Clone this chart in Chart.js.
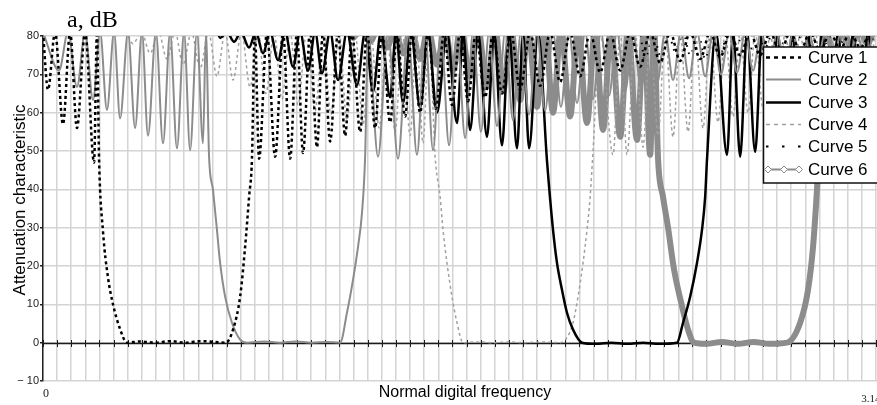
<!DOCTYPE html>
<html>
<head>
<meta charset="utf-8">
<script src="https://cdn.jsdelivr.net/npm/chart.js@4/dist/chart.umd.min.js"></script>
<style>
html, body { margin: 0; padding: 0; background: #fff; }
#wrap { width: 877px; height: 405px; }
</style>
</head>
<body>
<div id="wrap"><canvas id="chart" width="877" height="405"></canvas></div>
<script>
// frequency (rad) / attenuation (dB); 81..90 = pole just above the top edge
const c1Freq = [
  0, 0.019, 0.046, 0.076, 0.103, 0.129, 0.160, 0.194, 0.205, 0.213,
  0.228, 0.247, 0.266, 0.293, 0.319, 0.369, 0.426, 0.483, 0.540, 0.597,
  0.654, 0.695, 0.722, 0.749, 0.768, 0.783, 0.794, 0.805,
  0.821, 0.851, 0.882, 0.912, 0.939, 0.965, 0.988, 1.015, 1.041, 1.064,
  1.091, 1.121, 1.148, 1.174, 1.205, 1.231, 1.262, 1.288, 1.319, 1.345,
  1.376, 1.402, 1.433, 1.463, 1.493, 1.524, 1.554, 1.585, 1.615, 1.645,
  1.680, 1.710, 1.744, 1.778, 1.813, 1.851, 1.889, 1.927, 1.965, 2.003,
  2.041, 2.079, 2.117, 2.155, 2.193, 2.231, 2.269, 2.307, 2.345, 2.383,
  2.421, 2.459, 2.497, 2.535, 2.573, 2.611, 2.649, 2.687, 2.725, 2.763,
  2.801, 2.839, 2.877, 2.915, 2.953, 2.991, 3.029, 3.067, 3.105, 3.143
];
const c1Att = [
  81, 66, 81, 57, 81, 56, 81, 47, 81, 48,
  29, 17, 10, 3.5, 0, 0.3, 0, 0.4, 0, 0.4,
  0.2, 0, 3.4, 12, 25, 38, 48, 81,
  48, 81, 48.5, 81, 48, 81, 49.5, 81, 51, 81,
  52.5, 81, 54, 81, 55, 81, 56, 81, 57.5, 81,
  59, 81, 60, 81, 61, 81, 62, 81, 63, 81,
  64, 81, 65, 81, 66, 81, 67, 81, 68, 81,
  69.5, 81, 70.5, 81, 71, 81, 72, 81, 73, 81,
  73.5, 81, 74, 81, 74.5, 81, 75, 81, 75, 81,
  75.5, 81, 76, 81, 76, 81, 76.5, 81, 77, 81
];

const c2Freq = [
  0, 0.061, 0.095, 0.129, 0.160, 0.190, 0.217, 0.243, 0.270, 0.293,
  0.323, 0.350, 0.376, 0.399, 0.429, 0.456, 0.483, 0.509, 0.536, 0.559,
  0.585, 0.608, 0.619, 0.631, 0.646, 0.661, 0.673, 0.692, 0.718, 0.749,
  0.775, 0.840, 0.900, 0.960, 1.020, 1.080, 1.129, 1.155, 1.178, 1.197,
  1.212, 1.224, 1.235,
  1.273, 1.311, 1.349, 1.387, 1.421, 1.452, 1.482, 1.512, 1.543, 1.573,
  1.604, 1.634, 1.664, 1.695, 1.725, 1.756, 1.786, 1.816, 1.847, 1.877,
  1.908, 1.938, 1.968, 1.999, 2.029, 2.060, 2.090, 2.120, 2.151, 2.181,
  2.212, 2.242, 2.272, 2.303, 2.333, 2.364, 2.394, 2.424, 2.455, 2.485,
  2.516, 2.546, 2.576, 2.607, 2.637, 2.668, 2.698, 2.728, 2.759, 2.789,
  2.820, 2.850, 2.880, 2.911, 2.941, 2.972, 3.002, 3.032, 3.063, 3.093,
  3.124, 3.154
];
const c2Att = [
  81, 71, 81, 66.7, 81, 63.3, 81, 60.7, 81, 58.5,
  81, 56, 81, 54, 81, 52, 81, 50.7, 81, 50.2,
  81, 52, 81, 48.5, 39.8, 29.4, 20.8, 12, 5.2, 0.8,
  0, 0.3, 0, 0.3, 0, 0.2, 0, 7.8, 16.4, 25,
  33.8, 48.5, 81,
  48.5, 81, 48, 81, 49, 81, 50.2, 81, 51.5, 81,
  53.4, 81, 55, 81, 56.5, 81, 58, 81, 59.5, 81,
  60.5, 81, 61.5, 81, 62.5, 81, 63.5, 81, 64.5, 81,
  65.5, 81, 66.5, 81, 67.5, 81, 68.5, 81, 69, 81,
  69.5, 81, 70, 81, 70.5, 81, 71, 81, 71.5, 81,
  72, 81, 72, 81, 72.5, 81, 72.5, 81, 73, 81,
  73, 81
];

const c3Freq = [
  0, 0.640, 0.673, 0.699, 0.726, 0.752, 0.783, 0.809, 0.836, 0.863,
  0.893, 0.920, 0.950, 0.977, 1.007, 1.034, 1.060, 1.091, 1.121, 1.155,
  1.193, 1.224, 1.254, 1.284, 1.319, 1.341, 1.368, 1.398, 1.433, 1.463,
  1.497, 1.535, 1.573, 1.596, 1.623, 1.653, 1.687, 1.714, 1.744, 1.771,
  1.801, 1.824, 1.847, 1.881, 1.915, 1.938, 1.953, 1.972, 1.991,
  2.014, 2.048, 2.100, 2.160, 2.220, 2.280, 2.340, 2.409, 2.432, 2.459,
  2.485, 2.504, 2.516, 2.523, 2.557, 2.599, 2.622, 2.649, 2.675, 2.706,
  2.732, 2.763, 2.792, 2.820, 2.846, 2.877, 2.907, 2.934, 2.960, 2.991,
  3.021, 3.048, 3.078, 3.105, 3.135, 3.162
];
const c3Att = [
  90, 90, 79.5, 81, 78.5, 81, 77, 81, 75.5, 81,
  73.7, 81, 72, 81, 71, 81, 70.3, 81, 68.5, 81,
  67.2, 81, 65.5, 81, 64, 81, 62.5, 81, 61.2, 81,
  60, 81, 57.3, 81, 55.5, 81, 53.7, 81, 51.5, 81,
  50.7, 81, 50.7, 81, 47.5, 29.4, 20.8, 13.8, 7.8,
  3.4, 0, -0.3, 0, -0.3, 0, -0.3, 0, 5.2, 12,
  20.8, 29.4, 38, 47.7, 81, 49, 81, 48.5, 81, 49.8,
  81, 50, 81, 50.5, 81, 51, 81, 51.5, 81, 52,
  81, 52.5, 81, 53, 81, 53
];

const c4Freq = [
  0, 0.250, 0.281, 0.312, 0.342, 0.374, 0.407, 0.439, 0.471, 0.502,
  0.532, 0.564, 0.597, 0.629, 0.661, 0.692, 0.722, 0.754, 0.787, 0.817,
  0.847, 0.878, 0.908, 0.939, 0.969, 1.001, 1.034, 1.064, 1.094, 1.125,
  1.155, 1.186, 1.216, 1.246, 1.277, 1.307, 1.338, 1.366, 1.395, 1.419,
  1.444, 1.467, 1.490, 1.509, 1.520, 1.535, 1.554, 1.573, 1.596, 1.650,
  1.710, 1.770, 1.830, 1.890, 1.965, 1.991, 2.014, 2.033, 2.052, 2.067,
  2.079, 2.090, 2.117, 2.166, 2.193, 2.219, 2.250, 2.280, 2.307, 2.337,
  2.364, 2.394, 2.421, 2.451, 2.478, 2.508, 2.535, 2.565, 2.592, 2.622,
  2.649, 2.679, 2.706, 2.736, 2.763, 2.793, 2.820, 2.850, 2.877, 2.907,
  2.934, 2.964, 2.991, 3.021, 3.048, 3.078, 3.105, 3.135, 3.162
];
const c4Att = [
  90, 90, 80, 81, 78, 81, 75.5, 81, 74, 81,
  72.5, 81, 71.5, 81, 69.5, 81, 68.5, 81, 66.7, 81,
  65, 81, 63.5, 81, 62, 81, 60.5, 81, 59.5, 81,
  58, 81, 57, 81, 56, 81, 55, 81, 54, 81,
  52, 81, 48.5, 38, 29.4, 20.8, 12, 5.2, 0, 0.2,
  0, 0.2, 0, 0.2, 0, 1.3, 5.2, 12, 20.8, 29.4,
  38, 50, 81, 49, 81, 49, 81, 51, 81, 54,
  81, 53.7, 81, 55, 81, 56, 81, 57.5, 81, 59,
  81, 60, 81, 61, 81, 62, 81, 63, 81, 64,
  81, 65, 81, 66, 81, 67, 81, 68, 81
];

const c5Freq = [
  0, 2.250, 2.288, 2.318, 2.345, 2.375, 2.402, 2.432, 2.459, 2.489,
  2.516, 2.546, 2.573, 2.603, 2.630, 2.660, 2.687, 2.717, 2.744, 2.774,
  2.801, 2.831, 2.858, 2.888, 2.915, 2.945, 2.972, 3.002, 3.029, 3.059,
  3.086, 3.116, 3.143, 3.169
];
const c5Att = [
  90, 90, 74, 81, 75, 81, 76, 81, 75, 81,
  74, 81, 75, 81, 76, 81, 76.5, 81, 77, 81,
  77, 81, 77.5, 81, 77.5, 81, 78, 81, 78, 81,
  78.5, 81, 78.5, 81
];

const c6Freq = [
  0, 1.090, 1.117, 1.148, 1.178, 1.208, 1.243, 1.273, 1.307, 1.338,
  1.368, 1.398, 1.433, 1.463, 1.497, 1.528, 1.558, 1.588, 1.623, 1.653,
  1.687, 1.718, 1.748, 1.778, 1.813, 1.843, 1.877, 1.908, 1.938, 1.968,
  2.003, 2.033, 2.067, 2.098, 2.128, 2.158, 2.193, 2.223, 2.257, 2.284,
  2.307, 2.322, 2.337, 2.356, 2.375, 2.398, 2.425, 2.451, 2.474, 2.520,
  2.580, 2.640, 2.700, 2.760, 2.827, 2.877, 2.907, 2.926, 2.941, 2.953,
  2.964, 3.010, 3.040, 3.070, 3.101, 3.131, 3.162
];
const c6Att = [
  90, 90, 80.5, 82, 79.5, 82, 78.5, 82, 77, 82,
  75.5, 82, 74, 82, 72.5, 82, 71, 82, 69.4, 82,
  66.7, 82, 65.5, 82, 63.3, 82, 61.5, 82, 60, 82,
  59, 82, 57.3, 82, 55.5, 82, 53.7, 82, 52.9, 82,
  49, 82, 48, 38, 30, 19, 10.4, 3.4, 0, -0.3,
  0.2, -0.3, 0.2, -0.3, 0, 5.2, 13.8, 25, 40, 55,
  82, 76, 82, 77, 82, 78, 82
];

const curveNames = ['Curve 1', 'Curve 2', 'Curve 3', 'Curve 4', 'Curve 5', 'Curve 6'];
const yTickValues = [-10, 0, 10, 20, 30, 40, 50, 60, 70, 80];
const xLabelValues = [0, 3.14];
const xLabelTexts = ['0', '3.14'];

const GRID = '#d4d4d4';
const GRID_STEP = 0.05364;

function pts(fs, as) {
  return fs.map((f, i) => ({ x: f, y: as[i] }));
}

const styles = [
  { color: '#000000', width: 2.5, dash: [3, 3] },
  { color: '#8c8c8c', width: 2, dash: [] },
  { color: '#000000', width: 2.5, dash: [] },
  { color: '#a0a0a0', width: 1.5, dash: [3, 3] },
  { color: '#000000', width: 2, dash: [1.5, 6] },
  { color: '#8c8c8c', width: 6, dash: [] }
];
const series = [[c1Freq, c1Att], [c2Freq, c2Att], [c3Freq, c3Att], [c4Freq, c4Att], [c5Freq, c5Att], [c6Freq, c6Att]];

const datasets = series.map((s, i) => ({
  label: curveNames[i],
  data: pts(s[0], s[1]),
  borderColor: styles[i].color,
  borderWidth: styles[i].width,
  borderDash: styles[i].dash,
  pointRadius: 0,
  fill: false,
  cubicInterpolationMode: 'monotone'
}));

const decor = {
  id: 'decor',
  beforeDatasetsDraw(chart) {
    // axis line at 0 dB with small ticks
    const { ctx, chartArea: a, scales: { x, y } } = chart;
    const y0 = Math.round(y.getPixelForValue(0)) + 0.5;
    ctx.save();
    ctx.strokeStyle = '#1a1a1a';
    ctx.lineWidth = 1.5;
    ctx.beginPath();
    ctx.moveTo(a.left, y0);
    ctx.lineTo(a.right, y0);
    ctx.stroke();
    ctx.lineWidth = 1;
    ctx.beginPath();
    x.ticks.forEach(t => {
      const px = Math.round(x.getPixelForValue(t.value)) + 0.5;
      ctx.moveTo(px, y0 - 3.5);
      ctx.lineTo(px, y0 + 3.5);
    });
    ctx.stroke();
    ctx.restore();
  },
  afterDatasetsDraw(chart) {
    // legend box
    const { ctx, chartArea: a } = chart;
    const left = 763, top = a.top + 11, h = 136;
    ctx.save();
    ctx.fillStyle = '#fff';
    ctx.fillRect(left, top, a.right - left + 5, h);
    ctx.strokeStyle = '#111';
    ctx.lineWidth = 1.5;
    ctx.strokeRect(left + 0.5, top, a.right - left + 5, h);
    chart.data.datasets.forEach((ds, i) => {
      const yy = Math.round(top + 10 + i * 22.3) + 0.5;
      ctx.save();
      ctx.strokeStyle = ds.borderColor;
      ctx.lineWidth = i === 5 ? 2 : ds.borderWidth;
      let dash = ds.borderDash;
      if (i === 0 || i === 3) dash = [4, 4];
      if (i === 4) dash = [2.5, 13.5];
      ctx.setLineDash(dash);
      ctx.beginPath();
      ctx.moveTo(766, yy);
      ctx.lineTo(801, yy);
      ctx.stroke();
      if (i === 5) {
        ctx.setLineDash([]);
        ctx.lineWidth = 1;
        [768, 784, 799].forEach(px => {
          ctx.beginPath();
          ctx.moveTo(px - 3.5, yy);
          ctx.lineTo(px, yy - 3.5);
          ctx.lineTo(px + 3.5, yy);
          ctx.lineTo(px, yy + 3.5);
          ctx.closePath();
          ctx.fillStyle = '#fff';
          ctx.fill();
          ctx.stroke();
        });
      }
      ctx.restore();
      ctx.fillStyle = '#000';
      ctx.font = '17px "Liberation Sans", Arial, sans-serif';
      ctx.textAlign = 'left';
      ctx.textBaseline = 'middle';
      ctx.fillText(ds.label, 808, yy + 1);
    });
    ctx.restore();
  },
  afterDraw(chart) {
    const { ctx, scales: { x } } = chart;
    ctx.save();
    ctx.fillStyle = '#000';
    ctx.font = '24px "Liberation Serif", "Times New Roman", serif';
    ctx.textAlign = 'left';
    ctx.textBaseline = 'alphabetic';
    ctx.fillText('a, dB', 67, 27);

    ctx.font = '16px "Liberation Sans", Arial, sans-serif';
    ctx.textAlign = 'center';
    ctx.fillText('Normal digital frequency', 465, 397);

    ctx.save();
    ctx.translate(20, 200);
    ctx.rotate(-Math.PI / 2);
    ctx.font = '17px "Liberation Sans", Arial, sans-serif';
    ctx.textAlign = 'center';
    ctx.textBaseline = 'middle';
    ctx.fillText('Attenuation characteristic', 0, 0);
    ctx.restore();

    ctx.fillStyle = '#222';
    ctx.font = '12px "Liberation Serif", "Times New Roman", serif';
    ctx.textAlign = 'center';
    ctx.fillText(xLabelTexts[0], x.getPixelForValue(xLabelValues[0]) + 3, 397);
    ctx.font = '11px "Liberation Serif", "Times New Roman", serif';
    ctx.textAlign = 'left';
    ctx.fillText(xLabelTexts[1], x.getPixelForValue(xLabelValues[1]) - 8, 402);
    ctx.restore();
  }
};

new Chart(document.getElementById('chart'), {
  type: 'line',
  data: { datasets },
  options: {
    responsive: false,
    animation: false,
    devicePixelRatio: 1,
    layout: { padding: { top: 36, left: 0, right: 0, bottom: 0 } },
    plugins: { legend: { display: false }, tooltip: { enabled: false } },
    scales: {
      x: {
        type: 'linear',
        min: 0,
        max: 3.169,
        afterBuildTicks: s => {
          const t = [];
          for (let k = 0; k * GRID_STEP <= 3.169; k++) t.push({ value: k * GRID_STEP });
          s.ticks = t;
        },
        afterFit: s => { s.height = 24; },
        ticks: { display: false },
        grid: { color: GRID, lineWidth: 1.5, drawTicks: false },
        border: { display: false }
      },
      y: {
        min: -10,
        max: 80,
        afterBuildTicks: s => { s.ticks = yTickValues.map(v => ({ value: v })); },
        afterFit: s => { s.width = 43; },
        ticks: {
          padding: 1,
          color: '#222',
          font: { family: '"Liberation Sans", Arial, sans-serif', size: 11 },
          callback: v => v < 0 ? '\u2212 ' + Math.abs(v) : String(v)
        },
        grid: { color: GRID, lineWidth: 1.5, drawTicks: true, tickLength: 3, tickColor: '#222' },
        border: { display: true, color: '#222', width: 1.5 }
      }
    }
  },
  plugins: [decor]
});
</script>
</body>
</html>
